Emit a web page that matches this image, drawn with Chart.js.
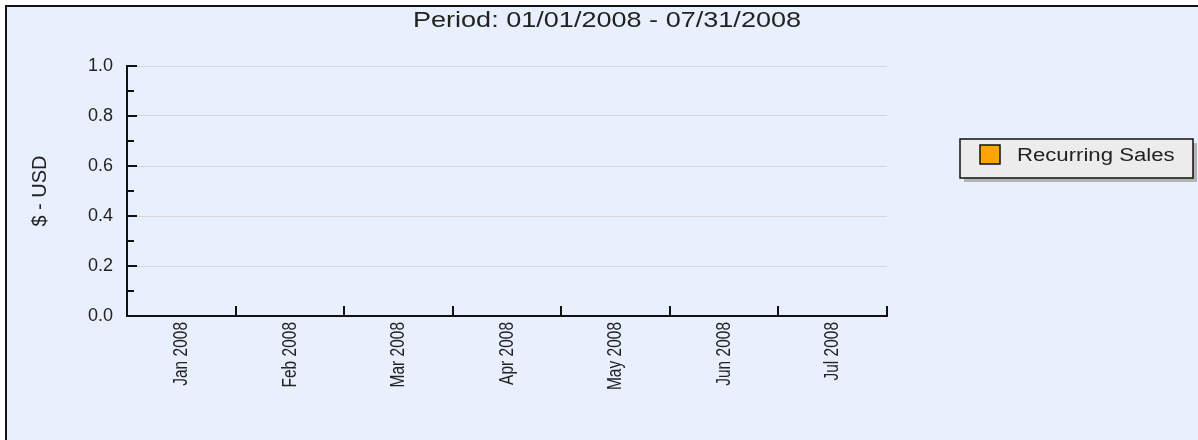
<!DOCTYPE html>
<html>
<head>
<meta charset="utf-8">
<script src="https://cdn.jsdelivr.net/npm/chart.js@4.4.0/dist/chart.umd.min.js"></script>
<style>
  html, body { margin: 0; padding: 0; background: #fff; overflow: hidden; }
  #frame { position: absolute; left: 5px; top: 5px; width: 1200px; height: 450px;
           border: 2px solid #111; background: #e9f0fd; }
  #wrap { position: absolute; left: 0; top: 0; width: 1198px; height: 440px; }
</style>
</head>
<body>
<div id="frame"></div>
<div id="wrap"><canvas id="chart" width="1198" height="440"></canvas></div>
<script>
// data (nothing is plotted above 0)
const months = ['Jan 2008', 'Feb 2008', 'Mar 2008', 'Apr 2008', 'May 2008', 'Jun 2008', 'Jul 2008'];
const recurringSales = [0, 0, 0, 0, 0, 0, 0];
const seriesName = 'Recurring Sales';
const periodTitle = 'Period: 01/01/2008 - 07/31/2008';
const yAxisTitle = '$ - USD';
const yMin = 0, yMax = 1.0, yMajorStep = 0.2, yMinorStep = 0.1;

const FONT = 'Liberation Sans, Arial, sans-serif';
const TEXT = '#222';
const STRETCH = 1.23; // the source image text is a bit wide

// text drawn a little wider than the font, like the original
function wideText(ctx, txt, x, y, size, align) {
  ctx.save();
  ctx.font = size + 'px ' + FONT;
  ctx.fillStyle = TEXT;
  ctx.textBaseline = 'middle';
  ctx.textAlign = align;
  ctx.translate(x, y);
  ctx.scale(STRETCH, 1);
  ctx.fillText(txt, 0, 0);
  ctx.restore();
}

/* title, ticks drawn inside the plot, month labels and the boxed legend */
const axisExtras = {
  id: 'axisExtras',
  afterDraw(chart) {
    const ctx = chart.ctx;
    const x = chart.scales.x, y = chart.scales.y;
    const area = chart.chartArea;
    ctx.save();
    ctx.strokeStyle = '#111';
    ctx.lineWidth = 2;
    // y ticks (major + minor), pointing into the plot
    const n = Math.round((yMax - yMin) / yMinorStep);
    for (let i = 0; i <= n; i++) {
      const v = yMin + i * yMinorStep;
      const py = Math.round(y.getPixelForValue(v));
      const major = i % Math.round(yMajorStep / yMinorStep) === 0;
      ctx.beginPath();
      ctx.moveTo(area.left, py);
      ctx.lineTo(area.left + (major ? 10 : 7), py);
      ctx.stroke();
    }
    // x ticks on category boundaries
    const w = months.length > 1 ? x.getPixelForTick(1) - x.getPixelForTick(0) : area.width;
    for (let i = 0; i <= months.length; i++) {
      const px = Math.round(x.getPixelForTick(0) - w / 2 + i * w);
      ctx.beginPath();
      ctx.moveTo(px, area.bottom);
      ctx.lineTo(px, area.bottom - 10);
      ctx.stroke();
    }

    // month labels, turned to read upwards
    months.forEach((m, i) => {
      ctx.save();
      ctx.translate(x.getPixelForTick(i), area.bottom + 6);
      ctx.rotate(-Math.PI / 2);
      ctx.scale(1, 1.35);
      ctx.font = '15.5px ' + FONT;
      ctx.fillStyle = TEXT;
      ctx.textAlign = 'right';
      ctx.textBaseline = 'middle';
      ctx.fillText(m, 0, 0);
      ctx.restore();
    });

    // title, centred on the whole picture
    wideText(ctx, periodTitle, 607, 21, 22, 'center');

    // legend box
    const ds = chart.data.datasets[0];
    const bx = 960, by = 139, bw = 233, bh = 39;
    ctx.fillStyle = '#b4b4b4';
    ctx.fillRect(bx + 4, by + 4, bw, bh);
    ctx.fillStyle = '#ececec';
    ctx.fillRect(bx, by, bw, bh);
    ctx.lineWidth = 1.5;
    ctx.strokeStyle = '#111';
    ctx.strokeRect(bx, by, bw, bh);
    ctx.fillStyle = ds.backgroundColor;
    ctx.fillRect(bx + 20, by + 6, 20, 19);
    ctx.strokeRect(bx + 20, by + 6, 20, 19);
    wideText(ctx, ds.label, bx + 57, by + 17, 18, 'left');
    ctx.restore();
  }
};

new Chart(document.getElementById('chart'), {
  type: 'bar',
  data: {
    labels: months,
    datasets: [{
      label: seriesName,
      data: recurringSales,
      backgroundColor: '#ffa500',
      borderColor: '#000',
      borderWidth: 1
    }]
  },
  options: {
    responsive: false,
    animation: false,
    layout: { padding: { left: 0, right: 311, top: 66, bottom: 0 } },
    plugins: {
      legend: { display: false },
      tooltip: { enabled: false },
      title: { display: false }
    },
    scales: {
      x: {
        grid: { display: false },
        border: { display: true, color: '#111', width: 2 },
        ticks: { display: false },
        afterFit(scale) { scale.height = 124; }
      },
      y: {
        min: yMin, max: yMax,
        grid: { color: '#d6d6d6', lineWidth: 1, drawTicks: false },
        border: { display: true, color: '#111', width: 2 },
        ticks: {
          stepSize: yMajorStep, padding: 14, color: TEXT,
          font: { family: FONT, size: 18 },
          callback: v => v.toFixed(1)
        },
        title: {
          display: true, text: yAxisTitle, color: TEXT,
          font: { family: FONT, size: 20 },
          padding: { top: 28, bottom: 0 }
        },
        afterFit(scale) { scale.width = 127; }
      }
    }
  },
  plugins: [axisExtras]
});
</script>
</body>
</html>
